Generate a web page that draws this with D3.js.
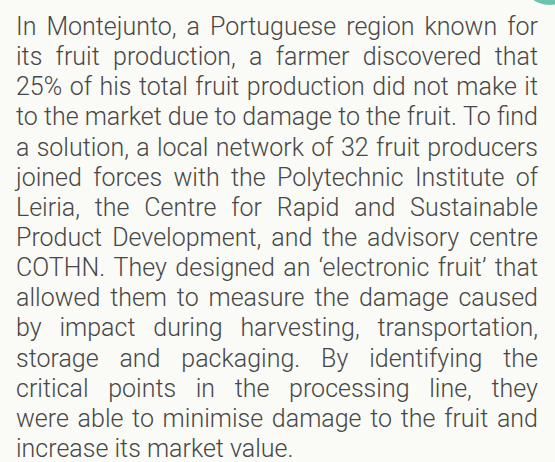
<!DOCTYPE html>
<html>
<head>
<meta charset="utf-8">
<script src="https://cdn.jsdelivr.net/npm/d3@7"></script>
<style>
  html, body { margin: 0; padding: 0; background: #fafaf6; }
  svg { display: block; }
</style>
</head>
<body>
<svg id="chart" width="555" height="462"></svg>
<script>
const lines = [
  "In Montejunto, a Portuguese region known for",
  "its fruit production, a farmer discovered that",
  "25% of his total fruit production did not make it",
  "to the market due to damage to the fruit. To find",
  "a solution, a local network of 32 fruit producers",
  "joined forces with the Polytechnic Institute of",
  "Leiria, the Centre for Rapid and Sustainable",
  "Product Development, and the advisory centre",
  "COTHN. They designed an \u2018electronic fruit\u2019 that",
  "allowed them to measure the damage caused",
  "by impact during harvesting, transportation,",
  "storage and packaging. By identifying the",
  "critical points in the processing line, they",
  "were able to minimise damage to the fruit and",
  "increase its market value."
];

const W = 555, H = 462;
const left = 16, right = 538;
const svg = d3.select("#chart");

svg.append("rect").attr("width", W).attr("height", H).attr("fill", "#fafaf6");
svg.append("circle").attr("cx", 550).attr("cy", -25).attr("r", 30).attr("fill", "#6cc4ae");

const y = d3.scaleLinear().domain([0, lines.length - 1]).range([35, 457]);

const g = svg.append("g");
const font = "Roboto, 'DejaVu Sans', sans-serif";
const fs = 26;
const fw = 300;

// measure
const meas = svg.append("text").attr("font-family", font).attr("font-size", fs).attr("font-weight", fw).attr("x", -1000).attr("y", -1000);
function w(s) { meas.text(s); return meas.node().getComputedTextLength(); }
const spaceW = w("a b") - w("ab");
const info = lines.map(l => {
  const words = l.split(" ");
  const ws = words.map(w);
  return { words, ws, nat: d3.sum(ws) + spaceW * (words.length - 1) };
});
meas.remove();
const s = (right - left) / d3.max(info, d => d.nat);
const fullW = (right - left) / s;

const lg = g.append("g").attr("transform", `translate(${left},0) scale(${s},1)`);
info.forEach((d, i) => {
  const last = i === lines.length - 1;
  const gap = last ? spaceW : (fullW - d3.sum(d.ws)) / (d.words.length - 1);
  let x = 0;
  d.words.forEach((word, j) => {
    lg.append("text")
      .attr("x", x).attr("y", y(i))
      .attr("font-family", font).attr("font-size", fs).attr("font-weight", fw)
      .attr("fill", "#474747")
      .text(word);
    x += d.ws[j] + gap;
  });
});
</script>
</body>
</html>
